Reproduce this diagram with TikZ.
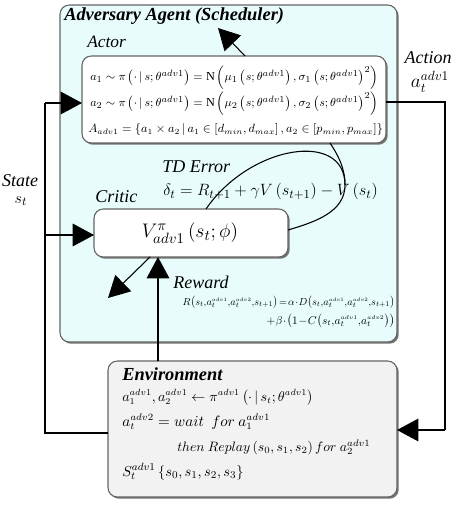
\documentclass[tikz,border=0pt]{standalone}
\usepackage{fontspec}
\setmainfont{Liberation Serif}
\usetikzlibrary{arrows.meta,shadows}
\definecolor{agentfill}{RGB}{232,252,252}
\definecolor{envfill}{RGB}{242,242,242}
\definecolor{boxline}{RGB}{100,100,100}
\newcommand{\fitw}[2]{\resizebox{#1}{!}{$#2$}}
\newcommand{\sss}[1]{{\scriptscriptstyle #1}}
\begin{document}
\begin{tikzpicture}[x=0.75pt,y=-0.75pt,
  box/.style={draw=boxline, line width=0.8pt, rounded corners=7pt,
    drop shadow={shadow xshift=1.3pt, shadow yshift=-1.3pt, fill=black!55, opacity=1}},
  txt/.style={anchor=base west, inner sep=0pt},
  conn/.style={line width=0.8pt, black},
  tip/.style={-{Triangle[length=16pt,width=17pt]}},
  lbl/.style={inner sep=0pt, font=\fontsize{13.5}{15}\selectfont\itshape}
]
\useasboundingbox (0,0) rectangle (458,505);
% boxes
\node[box, fill=agentfill, minimum width=252.75pt, minimum height=252.75pt] (agent) at (228.5,173.5) {};
\node[box, fill=white, minimum width=228pt, minimum height=65.25pt] (actor) at (234,99.5) {};
\node[box, fill=white, minimum width=145.5pt, minimum height=36pt] (critic) at (191,233) {};
\node[box, fill=envfill, minimum width=216.75pt, minimum height=102pt] (env) at (252.5,429) {};

% agent texts
\node[txt, font=\fontsize{13.8}{15}\selectfont\bfseries\itshape] (title) at (64,21) {Adversary Agent (Scheduler)};
\node[txt, font=\fontsize{13}{15}\selectfont\itshape] (actorlbl) at (87,48) {Actor};
\node[txt, font=\fontsize{9.4}{11}\selectfont] (al1) at (90,81)
  {\fitw{216pt}{a_1\sim\pi\left(\cdot\,|\,s;\theta^{adv1}\right)=\mathrm{N}\left(\mu_1\left(s;\theta^{adv1}\right),\sigma_1\left(s;\theta^{adv1}\right)^2\right)}};
\node[txt, font=\fontsize{9.4}{11}\selectfont] (al2) at (90,107)
  {\fitw{216pt}{a_2\sim\pi\left(\cdot\,|\,s;\theta^{adv1}\right)=\mathrm{N}\left(\mu_2\left(s;\theta^{adv1}\right),\sigma_2\left(s;\theta^{adv1}\right)^2\right)}};
\node[txt, font=\fontsize{9.2}{11}\selectfont] (al3) at (88,133)
  {\fitw{221pt}{A_{adv1}=\left\{a_1\times a_2\,|\,a_1\in\left[d_{min},d_{max}\right],a_2\in\left[p_{min},p_{max}\right]\right\}}};
\node[txt, font=\fontsize{13.5}{15}\selectfont\itshape] (criticlbl) at (95,203) {Critic};
\node[txt, font=\fontsize{13.5}{15}\selectfont\itshape] (tdlbl) at (162,173) {TD Error};
\node[txt, font=\fontsize{13}{15}\selectfont] (td) at (163,196)
  {\fitw{161pt}{\delta_t=R_{t+1}+\gamma V\left(s_{t+1}\right)-V\left(s_t\right)}};
\node[inner sep=0pt, font=\fontsize{15}{17}\selectfont] (vfun) at (190,233)
  {\fitw{72pt}{V^{\pi}_{adv1}\left(s_t;\phi\right)}};
\node[txt, font=\fontsize{13.5}{15}\selectfont\itshape] (rewlbl) at (173,288) {Reward};
\node[anchor=base east, inner sep=0pt, font=\fontsize{10}{12}\selectfont] (rew1) at (395,305)
  {\fitw{159pt}{R\bigl(s_t{,}a_t^{\sss{adv1}}{,}a_t^{\sss{adv2}}{,}s_{t+1}\bigr)\!=\!\alpha\!\cdot\! D\bigl(s_t{,}a_t^{\sss{adv1}}{,}a_t^{\sss{adv2}}{,}s_{t+1}\bigr)}};
\node[anchor=base east, inner sep=0pt, font=\fontsize{10}{12}\selectfont] (rew2) at (395,324)
  {\fitw{96pt}{+\beta\!\cdot\!\bigl(1\!-\!C\bigl(s_t{,}a_t^{\sss{adv1}}{,}a_t^{\sss{adv2}}\bigr)\bigr)}};

% environment texts
\node[txt, font=\fontsize{13.8}{15}\selectfont\bfseries\itshape] (envlbl) at (122,380) {Environment};
\node[txt, font=\fontsize{10.5}{12}\selectfont] (el1) at (122,401)
  {\fitw{143pt}{a_1^{adv1},a_2^{adv1}\leftarrow\pi^{adv1}\left(\cdot\,|\,s_t;\theta^{adv1}\right)}};
\node[txt, font=\fontsize{10.5}{12}\selectfont] (el2) at (122,426)
  {\fitw{111pt}{a_t^{adv2}=wait\ \ for\ a_1^{adv1}}};
\node[txt, font=\fontsize{10}{12}\selectfont] (el3) at (177,451)
  {\fitw{145pt}{then\ Replay\left(s_0,s_1,s_2\right)for\ a_2^{adv1}}};
\node[txt, font=\fontsize{11}{13}\selectfont] (el4) at (122,476)
  {\fitw{91pt}{S_t^{adv1}\left\{s_0,s_1,s_2,s_3\right\}}};

% side labels
\node[lbl] (statelbl) at (20,181) {State};
\node[lbl, font=\fontsize{13}{15}\selectfont] (stateval) at (21,201) {$s_t$};
\node[lbl] (actionlbl) at (428,58) {Action};
\node[lbl, font=\fontsize{14}{15}\selectfont] (actionval) at (430,82) {$a_t^{adv1}$};

% coordinates
\coordinate (sTop) at (45,103);
\coordinate (sMid) at (45,235);
\coordinate (sBot) at (45,433);
\coordinate (aTop) at (445,102);
\coordinate (aBot) at (445,430);
\coordinate (actorR) at (386,102);
\coordinate (actorL) at (82,103);
\coordinate (criticL) at (94,235);
\coordinate (envL) at (108,433);
\coordinate (envR) at (397,430);
\coordinate (envTop) at (158,361);
\coordinate (criticBot) at (158,257);
\coordinate (criticBot2) at (150,257);
\coordinate (freeTip) at (108,298);
\coordinate (actorTop) at (245,56);
\coordinate (topTip) at (218,28);
\coordinate (criticTop) at (206,209);
\coordinate (criticR) at (288,230);
\coordinate (actorBot) at (330,143);
\coordinate (loopR) at (345,185);

% connectors
\draw[conn] (envL) -- (sBot) -- (sTop);
\draw[conn, tip] (sTop) -- (actorL);
\draw[conn, tip] (sMid) -- (criticL);
\draw[conn] (actorR) -- (aTop) -- (aBot);
\draw[conn, tip] (aBot) -- (envR);
\draw[conn, tip] (envTop) -- (criticBot);
\draw[conn, tip] (criticBot2) -- (freeTip);
\draw[conn, tip] (actorTop) -- (topTip);
\draw[conn] (criticTop) .. controls (250,145) and (345,130) .. (loopR)
  .. controls (345,212) and (315,222) .. (criticR);
\draw[conn] (actorBot) .. controls (338,155) and (345,168) .. (loopR);
\end{tikzpicture}
\end{document}
